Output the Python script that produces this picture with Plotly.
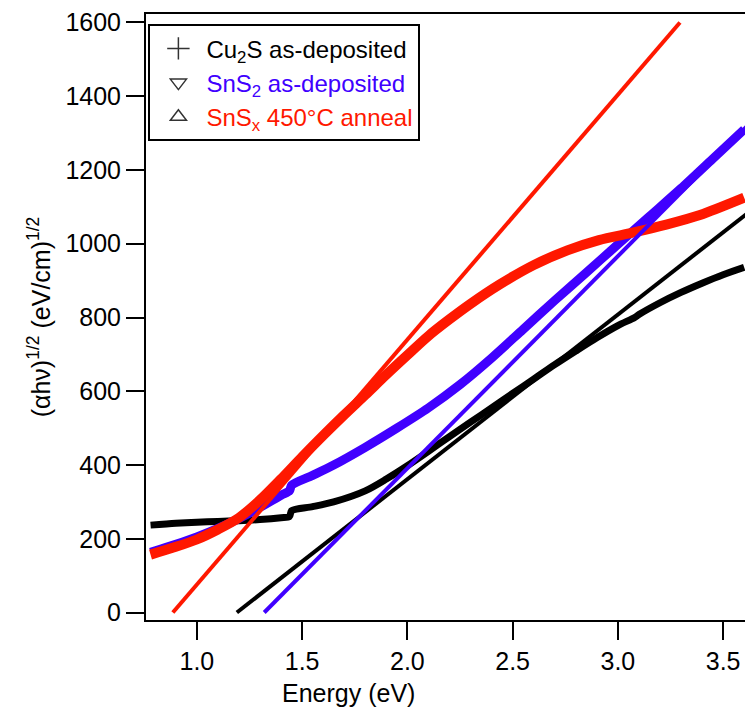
import plotly.graph_objects as go

# ---- data ----
cu2s_E = [0.78, 0.9, 1.0, 1.1, 1.2, 1.3, 1.40, 1.44, 1.45, 1.55, 1.65, 1.8, 1.9, 2.0, 2.1, 2.2,
          2.3, 2.4, 2.5, 2.6, 2.7, 2.8, 2.9, 3.0, 3.08, 3.1, 3.2, 3.3, 3.4, 3.5, 3.6]
cu2s_V = [237, 242, 245, 247, 249, 252, 257, 260, 276, 287, 300, 330, 362, 398, 437, 477,
          516, 555, 594, 633, 672, 709, 745, 778, 800, 808, 840, 868, 893, 916, 936]

sns2_E = [0.78, 0.9, 1.0, 1.1, 1.2, 1.3, 1.4, 1.44, 1.45, 1.55, 1.65, 1.8, 1.95, 2.1, 2.25, 2.4,
          2.55, 2.7, 2.85, 3.0, 3.15, 3.3, 3.45, 3.6]
sns2_V = [163, 185, 205, 228, 255, 285, 318, 330, 345, 372, 400, 448, 500, 555, 618, 690,
          768, 846, 922, 998, 1074, 1150, 1230, 1310]

snsx_E = [0.78, 0.9, 1.0, 1.1, 1.2, 1.3, 1.4, 1.5, 1.6, 1.7, 1.8, 1.9, 2.0, 2.1, 2.2, 2.3,
          2.44, 2.60, 2.76, 2.91, 3.07, 3.23, 3.39, 3.6]
snsx_V = [157, 178, 198, 225, 257, 305, 362, 422, 480, 536, 590, 645, 698, 750, 795, 837,
          890, 942, 982, 1010, 1030, 1052, 1078, 1125]

# linear fits (Tauc extrapolations)
fit_cu2s_E = [1.19, 3.61]
fit_cu2s_V = [0, 1080]
fit_sns2_E = [1.32, 3.61]
fit_sns2_V = [0, 1317]
fit_snsx_E = [0.886, 3.295]
fit_snsx_V = [0, 1600]

x_ticks = [1.0, 1.5, 2.0, 2.5, 3.0, 3.5]
x_ticktext = ["1.0", "1.5", "2.0", "2.5", "3.0", "3.5"]
y_ticks = [0, 200, 400, 600, 800, 1000, 1200, 1400, 1600]

BLACK = "#000000"
BLUE = "#4000ff"
RED = "#ff1800"
FONT = "Liberation Sans, Arial, sans-serif"
FS = 25

fig = go.Figure()

# data curves
fig.add_trace(go.Scatter(x=cu2s_E, y=cu2s_V, mode="lines",
                         line=dict(color=BLACK, width=7, shape="spline", smoothing=0.8),
                         showlegend=False))
fig.add_trace(go.Scatter(x=sns2_E, y=sns2_V, mode="lines",
                         line=dict(color=BLUE, width=9, shape="spline", smoothing=0.8),
                         showlegend=False))
fig.add_trace(go.Scatter(x=snsx_E, y=snsx_V, mode="lines",
                         line=dict(color=RED, width=10, shape="spline", smoothing=0.8),
                         showlegend=False))
# fit lines
fig.add_trace(go.Scatter(x=fit_cu2s_E, y=fit_cu2s_V, mode="lines", line=dict(color=BLACK, width=4),
                         showlegend=False))
fig.add_trace(go.Scatter(x=fit_sns2_E, y=fit_sns2_V, mode="lines", line=dict(color=BLUE, width=4),
                         showlegend=False))
fig.add_trace(go.Scatter(x=fit_snsx_E, y=fit_snsx_V, mode="lines", line=dict(color=RED, width=4),
                         showlegend=False))

# legend entries
fig.add_trace(go.Scatter(x=[None], y=[None], mode="markers",
                         marker=dict(symbol="cross-thin", size=16, line=dict(color="#333333", width=1.5)),
                         name="<span style='color:#000000'>Cu<sub>2</sub>S as-deposited</span>"))
fig.add_trace(go.Scatter(x=[None], y=[None], mode="markers",
                         marker=dict(symbol="triangle-down-open", size=14, color="#333333",
                                     line=dict(color="#333333", width=1.5)),
                         name="<span style='color:#4000ff'>SnS<sub>2</sub> as-deposited</span>"))
fig.add_trace(go.Scatter(x=[None], y=[None], mode="markers",
                         marker=dict(symbol="triangle-up-open", size=14, color="#333333",
                                     line=dict(color="#333333", width=1.5)),
                         name="<span style='color:#ff1800'>SnS<sub>x</sub> 450°C anneal</span>"))

fig.update_layout(
    width=745, height=710,
    margin=dict(l=146, r=0, t=14, b=90),
    paper_bgcolor="white", plot_bgcolor="white",
    font=dict(family=FONT, size=FS, color="black"),
    showlegend=True,
    legend=dict(x=0.004, y=0.983, xanchor="left", yanchor="top",
                bgcolor="white", bordercolor="black", borderwidth=2,
                font=dict(family=FONT, size=24), itemwidth=46, tracegroupgap=0),
    annotations=[dict(text="Energy (eV)", xref="paper", yref="paper", x=0.338, y=-0.1205,
                      xanchor="center", yanchor="middle", showarrow=False,
                      font=dict(family=FONT, size=FS, color="black"))],
)

fig.update_xaxes(range=[0.7584, 3.604], tickvals=x_ticks, ticktext=x_ticktext,
                 ticks="outside", ticklen=18, tickwidth=2, tickcolor="black",
                 showline=True, linewidth=2, linecolor="black", mirror=True,
                 showgrid=False, zeroline=False, tickfont=dict(size=FS))
fig.update_yaxes(range=[-20.3, 1623], tickvals=y_ticks,
                 ticks="outside", ticklen=18, tickwidth=2, tickcolor="black",
                 showline=True, linewidth=2, linecolor="black", mirror=False,
                 showgrid=False, zeroline=False, tickfont=dict(size=FS),
                 title=dict(text="(αhν)<sup>1/2</sup> (eV/cm)<sup>1/2</sup>", standoff=8,
                            font=dict(size=FS)))

fig.write_html("out.html")
